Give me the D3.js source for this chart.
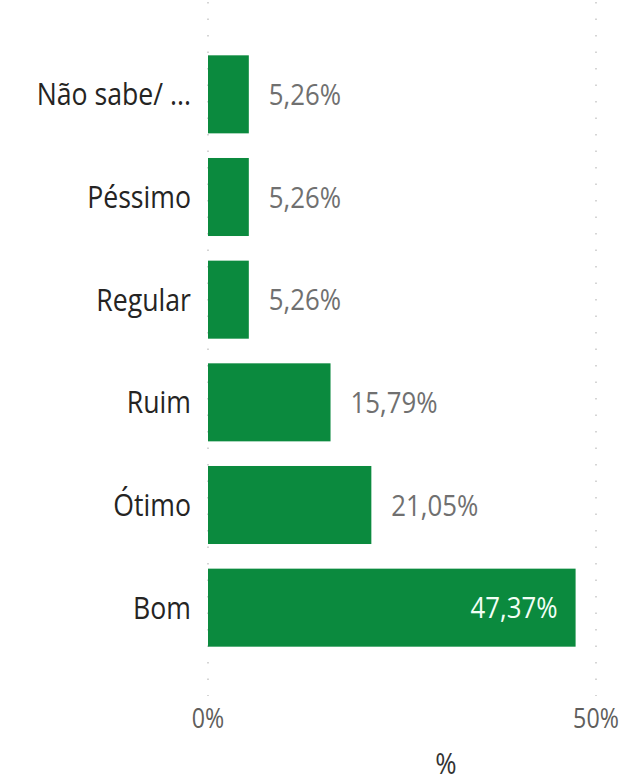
<!DOCTYPE html>
<html>
<head>
<meta charset="utf-8">
<script src="https://cdn.jsdelivr.net/npm/d3@7"></script>
<style>
  html, body { margin: 0; padding: 0; background: #fff; }
  svg { display: block; }
  text { font-family: "Open Sans", "Noto Sans", sans-serif; }
</style>
</head>
<body>
<div id="chart"></div>
<script>
const categories = ["Não sabe/ ...", "Péssimo", "Regular", "Ruim", "Ótimo", "Bom"];
const values = [5.26, 5.26, 5.26, 15.79, 21.05, 47.37];
const tickValues = [0, 50];
const tickLabels = ["0%", "50%"];
const axisTitle = "%";

const W = 625, H = 783;
const svg = d3.select("#chart").append("svg").attr("width", W).attr("height", H);

const x = d3.scaleLinear().domain([0, 50]).range([208, 596]);
const y = d3.scaleBand().domain(categories).range([43, 659]).paddingInner(0.24).paddingOuter(0.12);

const fmt = v => v.toFixed(2).replace(".", ",") + "%";
const SX = 0.86; // horizontal compression to mimic narrow font

// gridlines
svg.append("g").selectAll("line").data(tickValues).join("line")
  .attr("x1", d => x(d)).attr("x2", d => x(d))
  .attr("y1", 2).attr("y2", 696)
  .attr("stroke", "#c8c8c8").attr("stroke-width", 1.5)
  .attr("stroke-dasharray", "1.5,15");

// bars
svg.append("g").selectAll("rect").data(values).join("rect")
  .attr("x", x(0))
  .attr("y", (d, i) => y(categories[i]))
  .attr("width", d => x(d) - x(0))
  .attr("height", y.bandwidth())
  .attr("fill", "#0b8a3e");

function sxText(sel, px, anchor) {
  sel.attr("transform", `translate(${px},0) scale(${SX},1) translate(${-px},0)`)
     .attr("text-anchor", anchor);
}

// category labels
svg.append("g").selectAll("text").data(categories).join("text")
  .attr("x", 191)
  .attr("y", d => y(d) + y.bandwidth() / 2)
  .attr("dy", "0.36em")
  .attr("font-size", 31)
  .attr("fill", "#252423")
  .text(d => d)
  .each(function() { sxText(d3.select(this), 191, "end"); });

// value labels
const inside = v => x(v) - x(0) > 250;
const vx = v => inside(v) ? x(v) - 18 : x(v) + 20;
svg.append("g").selectAll("text").data(values).join("text")
  .attr("x", d => vx(d))
  .attr("y", (d, i) => y(categories[i]) + y.bandwidth() / 2)
  .attr("dy", "0.36em")
  .attr("font-size", 30)
  .attr("fill", d => inside(d) ? "#f2fff6" : "#707070")
  .text(d => fmt(d))
  .each(function(d) { sxText(d3.select(this), vx(d), inside(d) ? "end" : "start"); });

// x tick labels
svg.append("g").selectAll("text").data(tickValues).join("text")
  .attr("x", d => x(d))
  .attr("y", 728)
  .attr("font-size", 27)
  .attr("fill", "#605e5c")
  .text((d, i) => tickLabels[i])
  .each(function(d) { sxText(d3.select(this), x(d), "middle"); });

// axis title
svg.append("text")
  .attr("x", 446).attr("y", 774)
  .attr("font-size", 30)
  .attr("fill", "#333")
  .text(axisTitle)
  .each(function() { sxText(d3.select(this), 446, "middle"); });
</script>
</body>
</html>
